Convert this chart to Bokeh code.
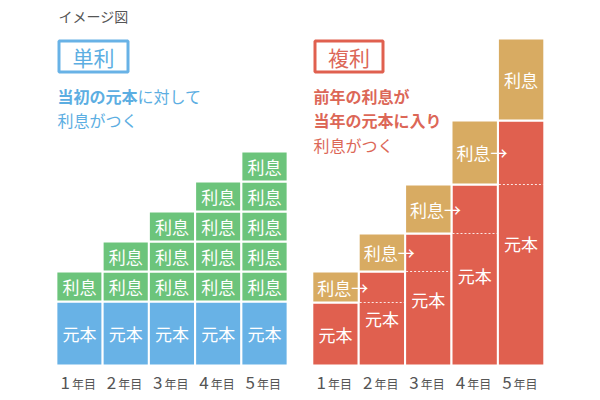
from bokeh.plotting import figure
from bokeh.models import Range1d
from bokeh.core.properties import value
from bokeh.embed import file_html
from bokeh.resources import INLINE

# ---------------- data ----------------
years = ["1", "2", "3", "4", "5"]
year_suffix = "年目"
principal_label = "元本"
interest_label = "利息"

# 単利 (simple interest): fixed principal, one equal interest block per year
simple_principal = 64
simple_interest = 30
simple_blocks = [1, 2, 3, 4, 5]

# 複利 (compound interest): principal grows by previous year's interest
compound_principal = [63, 94, 132, 181, 245]
compound_interest = [31, 38, 49, 64, 82]

title_text = "イメージ図"
simple_title = "単利"
compound_title = "複利"
simple_desc = [[("当初の元本", "bold"), ("に対して", "normal")],
               [("利息がつく", "normal")]]
compound_desc = [[("前年の利息が", "bold")],
                 [("当年の元本に入り", "bold")],
                 [("利息がつく", "normal")]]

# ---------------- style ----------------
FONT = value("Noto Sans CJK JP")
BLUE = "#68b2e6"
GREEN = "#6cc47b"
RED = "#e0604f"
GOLD = "#d8ab62"
BLUE_TXT = "#5caee2"
RED_TXT = "#dc6757"
GRAY = "#555555"

W, H = 600, 400
BASE = 365  # baseline in picture pixels


def sy(y):
    return BASE - y


p = figure(width=W, height=H, output_backend="svg", toolbar_location=None,
           x_range=Range1d(0, W), y_range=Range1d(sy(H), sy(0)),
           min_border=0)
p.axis.visible = False
p.grid.visible = False
p.outline_line_color = None
p.background_fill_color = "white"
p.border_fill_color = "white"

L0, LSTEP = 79.0, 46.25
R0, RSTEP = 335.0, 46.4
lx = [L0 + i * LSTEP for i in range(len(years))]
rx = [R0 + i * RSTEP for i in range(len(years))]
n = len(years)
LBL = "17px"

# ---------------- simple interest panel ----------------
p.vbar(x=lx, width=LSTEP, bottom=0, top=[simple_principal] * n,
       fill_color=BLUE, line_color="white", line_width=2)
cx, cb, ct = [], [], []
for i, k_n in enumerate(simple_blocks):
    for k in range(k_n):
        cx.append(lx[i])
        cb.append(simple_principal + k * simple_interest)
        ct.append(simple_principal + (k + 1) * simple_interest)
p.vbar(x=cx, width=LSTEP, bottom=cb, top=ct,
       fill_color=GREEN, line_color="white", line_width=2)
p.text(x=lx, y=[simple_principal / 2] * n, text=[principal_label] * n,
       text_font=FONT, text_font_size=LBL, text_color="white",
       text_align="center", text_baseline="middle")
p.text(x=cx, y=[(b + t) / 2 for b, t in zip(cb, ct)], text=[interest_label] * len(cx),
       text_font=FONT, text_font_size=LBL, text_color="white",
       text_align="center", text_baseline="middle")

# ---------------- compound interest panel ----------------
ctop = [a + b for a, b in zip(compound_principal, compound_interest)]
p.vbar(x=rx, width=RSTEP, bottom=0, top=compound_principal,
       fill_color=RED, line_color="white", line_width=2)
p.vbar(x=rx, width=RSTEP, bottom=compound_principal, top=ctop,
       fill_color=GOLD, line_color="white", line_width=2)
# dashed line: previous year's principal inside the current principal
hw = RSTEP / 2 - 1
p.segment(x0=[x - hw for x in rx[1:]], x1=[x + hw for x in rx[1:]],
          y0=compound_principal[:-1], y1=compound_principal[:-1],
          line_color="white", line_width=1, line_dash="2 2", line_alpha=0.85)
p.text(x=rx, y=[v / 2 for v in compound_principal], text=[principal_label] * n,
       text_font=FONT, text_font_size=LBL, text_color="white",
       text_align="center", text_baseline="middle")
p.text(x=[x - hw + 4 for x in rx[:-1]],
       y=[a + b / 2 for a, b in zip(compound_principal[:-1], compound_interest[:-1])],
       text=[interest_label + "→"] * (n - 1),
       text_font=FONT, text_font_size=LBL, text_color="white",
       text_align="left", text_baseline="middle")
p.text(x=[rx[-1]], y=[compound_principal[-1] + compound_interest[-1] / 2],
       text=[interest_label], text_font=FONT, text_font_size=LBL,
       text_color="white", text_align="center", text_baseline="middle")

# ---------------- year labels ----------------
for centers in (lx, rx):
    p.text(x=[c - 9.5 for c in centers], y=[sy(382)] * n, text=years,
           text_font=FONT, text_font_size="17px", text_color=GRAY,
           text_align="right", text_baseline="middle")
    p.text(x=[c - 7.5 for c in centers], y=[sy(383)] * n, text=[year_suffix] * n,
           text_font=FONT, text_font_size="12px", text_color=GRAY,
           text_align="left", text_baseline="middle")

# ---------------- headings ----------------
p.text(x=[58], y=[sy(15)], text=[title_text], text_font=FONT,
       text_font_size="14px", text_color=GRAY, text_align="left",
       text_baseline="middle")

for (left, right, col, tcol, label) in ((58.5, 127.5, BLUE, BLUE_TXT, simple_title),
                                        (314.5, 382.5, RED, RED_TXT, compound_title)):
    p.quad(left=[left], right=[right], top=[sy(40.5)], bottom=[sy(71.5)],
           fill_color=None, line_color=col, line_width=3)
    p.text(x=[(left + right) / 2], y=[sy(56)], text=[label], text_font=FONT,
           text_font_size="21px", text_color=tcol, text_align="center",
           text_baseline="middle")


def draw_lines(x0, y0, lines, color):
    for j, parts in enumerate(lines):
        xx = x0
        for txt, style in parts:
            p.text(x=[xx], y=[sy(y0 + 24.5 * j)], text=[txt], text_font=FONT,
                   text_font_size="16px", text_font_style=style, text_color=color,
                   text_align="left", text_baseline="middle")
            xx += 16 * len(txt)


draw_lines(57, 95, simple_desc, BLUE_TXT)
draw_lines(313, 95, compound_desc, RED_TXT)

open("out.html", "w").write(file_html(p, INLINE))
